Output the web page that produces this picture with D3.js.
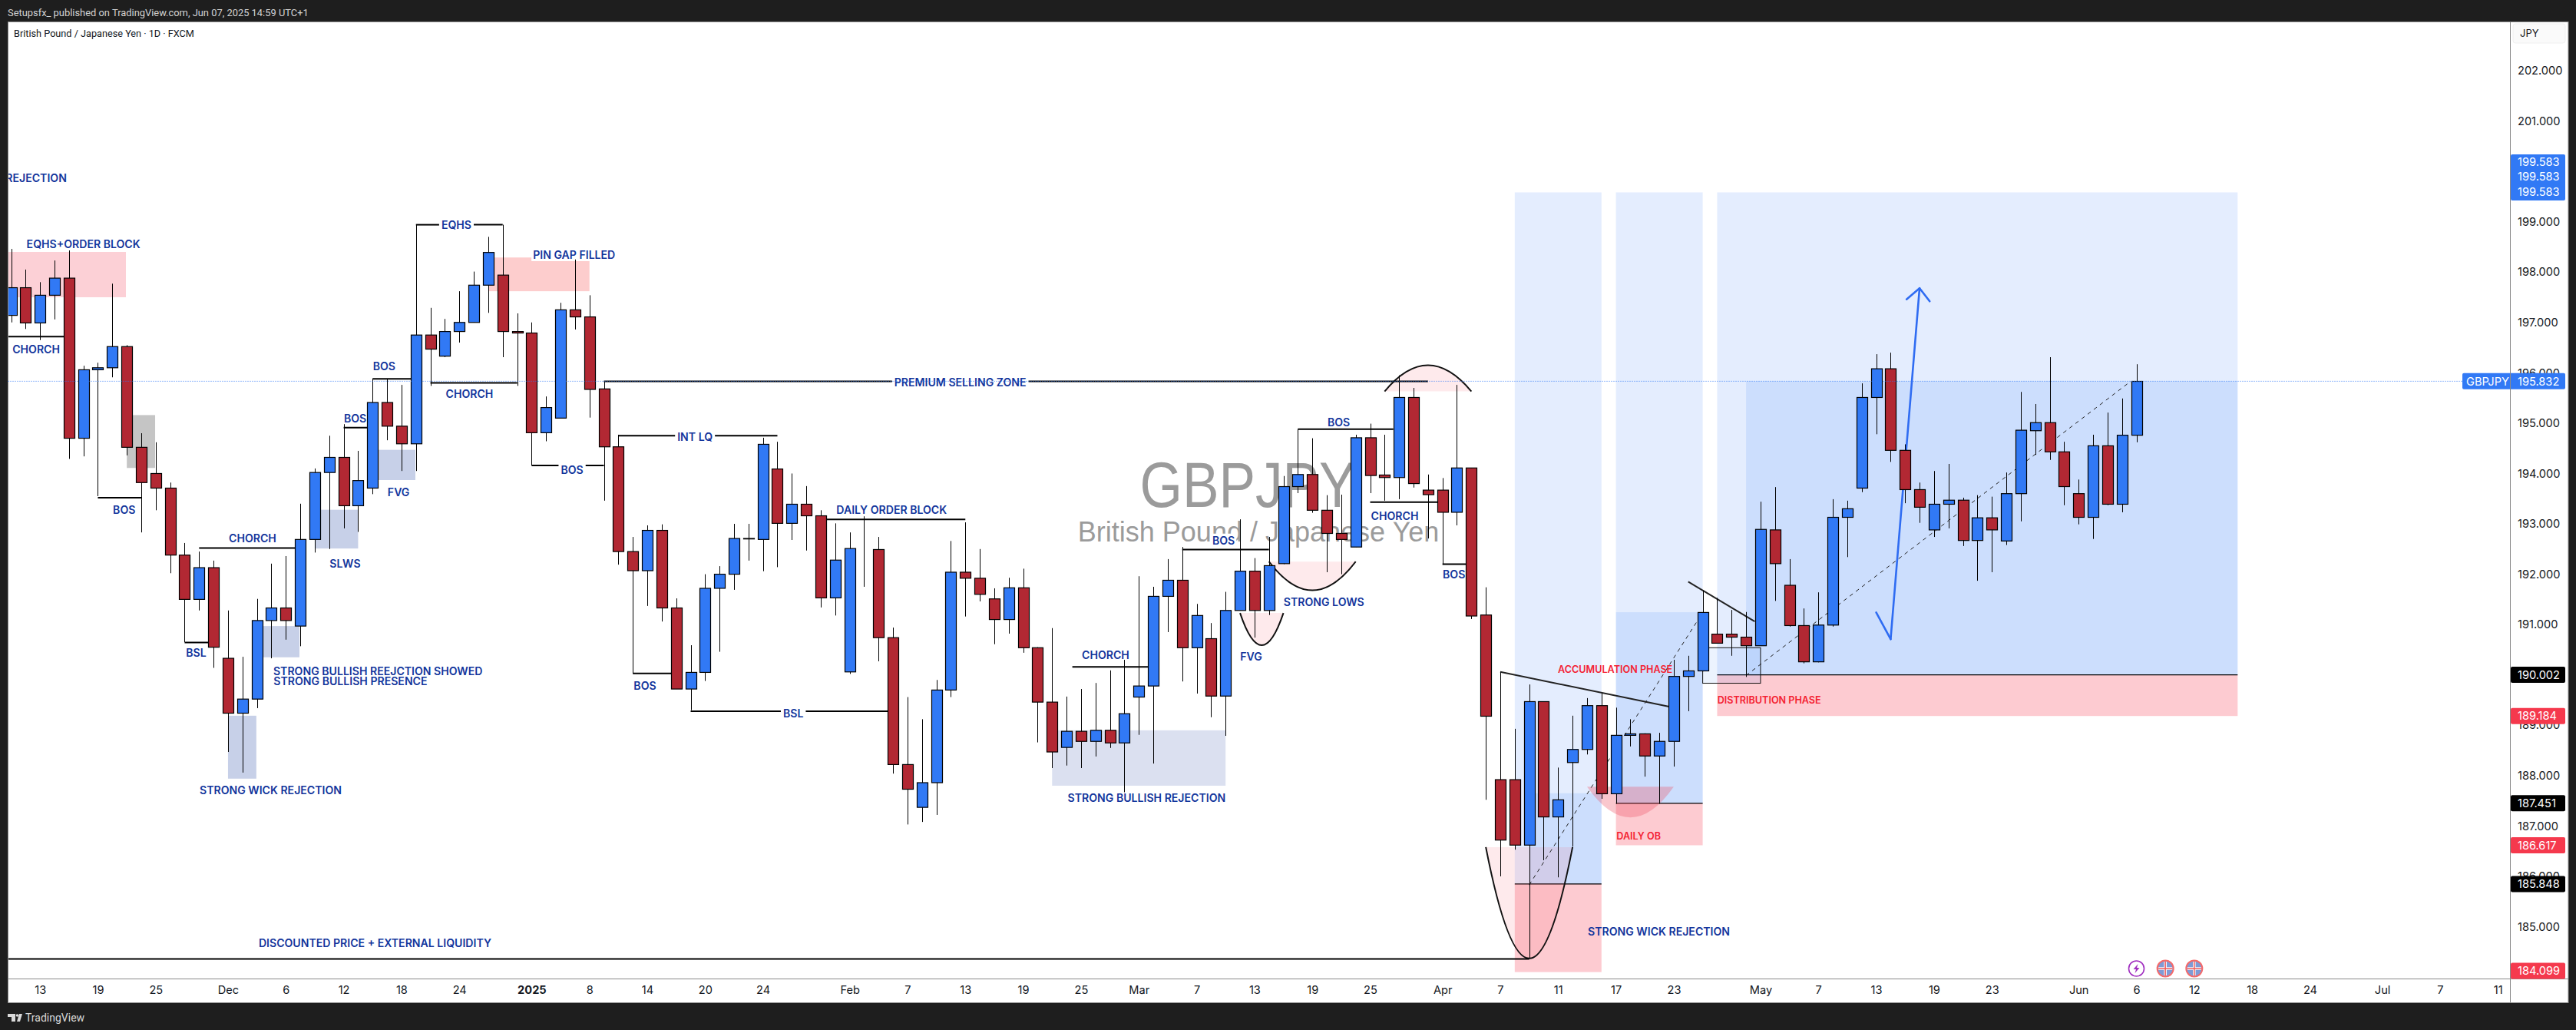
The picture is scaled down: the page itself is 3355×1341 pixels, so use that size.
<!DOCTYPE html>
<html>
<head>
<meta charset="utf-8">
<style>
html, body { margin: 0; padding: 0; background: #1e1e1e; }
svg { display: block; }
text { font-family: Inter, "Noto Sans", sans-serif; }
</style>
<script src="https://cdn.jsdelivr.net/npm/d3@7"></script>
</head>
<body>
<script>
// daily candles, bar 0 = Nov 11 2024
var opens = [
  197.14,197.69,196.99,197.54,197.88,194.70,196.06,196.10,196.52,194.52,
  194.00,193.71,192.38,191.50,192.13,190.33,189.24,189.52,191.08,191.33,
  190.97,192.69,194.02,194.32,193.36,193.71,195.41,194.94,194.59,196.75,
  196.33,196.82,197.00,197.74,197.94,196.82,196.79,194.81,195.10,197.25,
  197.11,195.68,194.53,192.45,192.07,192.87,191.33,189.72,190.05,191.72,
  192.00,192.70,192.69,194.09,193.01,193.39,193.16,191.53,190.06,192.51,
  192.49,190.74,188.22,187.37,187.86,189.70,192.04,191.92,191.51,191.10,
  191.73,190.54,189.46,188.56,188.88,188.68,188.90,188.65,189.56,189.78,
  191.56,191.88,190.54,190.72,189.58,191.28,192.06,191.28,192.21,193.74,
  193.98,193.27,192.81,192.54,194.71,193.97,193.92,195.51,193.67,193.67,
  193.23,194.11,191.19,187.92,187.92,186.62,189.47,187.18,188.26,188.52,
  189.39,187.64,188.80,188.83,188.39,188.68,189.97,190.08,190.81,190.81,
  190.75,190.58,192.88,191.78,190.98,190.26,190.99,193.13,193.71,195.51,
  196.08,194.46,193.68,192.88,193.39,193.47,192.67,193.12,192.66,193.60,
  194.85,195.01,194.43,193.60,193.13,194.55,193.39,194.76
];
var highs = [
  198.46,198.05,197.80,198.23,198.43,196.14,196.20,197.77,196.55,194.80,
  194.62,193.82,192.62,192.45,192.27,191.28,190.36,191.51,192.21,192.36,
  193.40,194.10,194.75,194.98,194.45,195.88,195.88,195.76,198.94,197.29,
  197.07,197.62,198.01,198.70,198.94,197.18,197.00,195.53,197.39,198.25,
  197.54,195.83,194.77,192.74,192.97,192.99,191.52,190.59,192.00,192.16,
  193.00,193.00,194.71,194.63,194.00,193.75,193.27,193.01,192.83,193.15,
  192.74,190.94,189.56,189.12,189.90,192.66,193.03,192.50,191.72,191.93,
  192.11,190.55,190.93,189.57,189.72,189.84,190.09,190.30,191.96,191.75,
  192.30,192.54,191.41,191.03,191.65,193.09,192.32,192.74,193.95,194.88,
  194.70,193.57,193.58,194.77,194.99,194.77,195.95,195.70,193.98,193.91,
  195.76,194.11,191.74,190.06,188.93,189.81,189.47,188.16,189.19,189.54,
  189.63,189.35,189.12,188.84,188.85,190.30,190.38,191.68,191.53,191.29,
  191.25,193.44,193.73,192.30,191.32,191.64,193.49,193.46,195.79,196.37,
  196.40,194.58,193.82,194.05,194.19,193.52,193.57,193.54,194.02,195.62,
  195.38,196.31,194.63,193.88,194.77,195.21,195.49,196.17
];
var lows = [
  197.00,196.87,196.65,197.06,194.29,194.34,193.55,195.91,194.36,192.83,
  193.27,192.02,190.65,191.28,190.14,188.47,188.06,189.34,190.33,190.70,
  190.57,192.43,192.50,192.91,192.84,193.59,194.66,194.05,194.05,195.74,
  196.31,196.60,197.00,197.19,196.31,195.74,194.16,194.64,195.10,196.86,
  195.11,193.46,192.19,190.03,191.37,191.06,189.72,189.30,189.88,190.46,
  191.69,192.27,192.06,192.14,192.68,192.47,191.34,191.18,190.02,191.75,
  190.27,188.04,187.03,187.08,187.22,189.56,191.16,191.46,190.61,190.82,
  190.44,188.66,188.15,188.20,188.15,188.38,188.55,187.67,188.81,188.24,
  190.85,189.87,189.63,189.16,188.79,191.28,190.74,191.19,192.20,193.61,
  193.22,192.04,192.00,192.54,193.61,193.46,193.49,193.72,192.71,192.19,
  192.97,191.11,187.52,186.00,186.53,184.37,186.32,185.98,186.59,188.42,
  187.54,187.44,188.58,187.98,187.44,188.18,189.28,190.07,190.63,190.38,
  189.96,190.58,191.47,190.96,190.23,190.25,190.96,192.34,193.63,194.78,
  194.23,193.41,193.02,192.74,192.91,192.56,191.87,192.04,192.58,193.05,
  194.37,194.27,193.37,192.99,192.70,193.37,193.23,194.62
];
var closes = [
  197.69,196.99,197.54,197.88,194.70,196.06,196.10,196.52,194.52,193.82,
  193.71,192.38,191.50,192.13,190.55,189.24,189.52,191.08,191.33,191.08,
  192.69,194.02,194.32,193.36,193.86,195.41,194.94,194.59,196.75,196.47,
  196.82,197.00,197.74,198.39,196.82,196.79,194.81,195.31,197.25,197.11,
  195.67,194.53,192.45,192.07,192.87,191.33,189.72,190.05,191.72,192.00,
  192.71,192.71,194.58,193.01,193.39,193.16,191.53,192.28,192.51,192.51,
  190.74,188.22,187.73,187.86,189.70,192.04,191.92,191.60,191.10,191.73,
  190.54,189.46,188.47,188.88,188.68,188.90,188.65,189.23,189.78,191.56,
  191.88,190.54,191.18,189.58,191.28,192.06,191.28,192.17,193.74,193.98,
  193.27,192.81,192.69,194.71,193.96,193.92,195.51,193.80,193.58,193.23,
  194.11,191.17,189.18,186.72,186.62,189.47,187.18,187.52,188.52,189.39,
  187.64,188.80,188.83,188.39,188.68,189.97,190.08,191.24,190.63,190.75,
  190.58,192.89,192.21,190.98,190.26,190.99,193.13,193.30,195.51,196.08,
  194.46,193.68,193.33,193.39,193.47,192.67,193.12,192.88,193.60,194.86,
  195.01,194.43,193.74,193.13,194.55,193.39,194.76,195.83
];

// axes
var priceTicks = [202,201,200,199,198,197,196,195,194,193,192,191,190,189,188,187,186,185];
var timeTickBars = [2,6,10,15,19,23,27,31,36,40,44,48,52,58,62,66,70,74,78,82,86,90,94,99,103,107,111,115,121,125,129,133,137,143,147,151,155,159,164,168,172];
var timeTickLabels = ["13","19","25","Dec","6","12","18","24","2025","8","14","20","24","Feb","7","13","19","25","Mar","7","13","19","25","Apr","7","11","17","23","May","7","13","19","23","Jun","6","12","18","24","Jul","7","11"];
var lastPrice = 195.832;

// position tools: start bar, end bar, target, entry, stop, filled part [bar, price]
var positions = [
  [104, 110, 199.583, 185.848, 184.099, 105, 187.65],
  [111, 117, 199.583, 187.451, 186.617, 111, 191.245],
  [118, 154, 199.583, 190.002, 189.184, 120, 195.832]
];

// rectangles: start bar, end bar, top price, bottom price
var pinkZones = [[-1, 7.94, 198.40, 197.50], [33, 40, 198.29, 197.62]];
var greyZones = [[8, 9.96, 195.16, 194.11]];
var slateZones = [[25.35, 27.96, 194.47, 193.87], [21, 24, 193.28, 192.51], [17.4, 19.94, 190.97, 190.35], [15, 16.96, 189.19, 187.94]];
var paleSlateZones = [[72, 84, 188.90, 187.80]];
var outlineBoxes = [[117, 121, 190.54, 189.835]];

// arcs: bar0, bar1, edge price, mid bar, extreme price
var blackArcs = [
  [85, 88, 191.23, 86.5, 190.59],
  [87, 93, 192.25, 90, 191.68],
  [95, 101, 195.63, 98, 196.15],
  [102, 108, 186.58, 105, 184.37]
];
var softArcs = [[109, 115, 187.78, 112, 187.17]];

// plain structure lines: bar0, bar1, price
var structureLines = [
  [-1, 4, 196.72], [6, 9, 193.52], [12, 14, 190.645], [13, 20, 192.52],
  [23, 24.7, 194.91], [25, 27.7, 195.88], [29, 35, 195.80], [43, 46, 190.03],
  [56, 66, 193.09], [73.4, 79, 190.16], [81, 87, 192.49], [89, 95.6, 194.88],
  [94, 99, 193.43], [99, 101, 192.20], [-1, 105, 184.36]
];
// lines broken by their label: bar0, bar1, price, text, label bar, label price
var brokenLines = [
  [28, 34, 198.94, "EQHS", 30.8, 198.94],
  [36, 41, 194.16, "BOS", 38.8, 194.07],
  [41, 98, 195.83, "PREMIUM SELLING ZONE", 65.65, 195.81],
  [42, 53, 194.75, "INT LQ", 47.3, 194.73],
  [47, 61, 189.28, "BSL", 54.1, 189.23]
];
var trendLines = [[103, 190.06, 115, 189.35], [116, 191.85, 120.6, 191.06]];
var dashedLines = [[105, 185.83, 117, 191.24], [120, 189.99, 146.6, 195.83]];
var arrowShaft = [[130, 190.71], [132, 197.68]];
var arrowHeadTop = [[131.1, 197.46], [132, 197.68], [132.7, 197.42]];
var arrowHeadBottom = [[129, 191.24], [130, 190.71]];

// labels: text, centre bar, price
var blueLabels = [
  ["REJECTION", 1.73, 199.86], ["EQHS+ORDER BLOCK", 5.0, 198.55], ["CHORCH", 1.73, 196.47],
  ["BOS", 7.82, 193.28], ["BOS", 23.8, 195.09], ["BOS", 25.8, 196.13], ["FVG", 26.8, 193.63],
  ["CHORCH", 31.7, 195.58], ["SLWS", 23.1, 192.21], ["CHORCH", 16.7, 192.71], ["BSL", 12.8, 190.44],
  ["STRONG BULLISH REEJCTION SHOWED", 25.37, 190.08], ["STRONG BULLISH PRESENCE", 23.47, 189.87],
  ["STRONG WICK REJECTION", 17.95, 187.71], ["DISCOUNTED PRICE + EXTERNAL LIQUIDITY", 25.17, 184.67],
  ["BOS", 43.84, 189.78], ["DAILY ORDER BLOCK", 60.9, 193.27], ["CHORCH", 75.7, 190.39],
  ["STRONG BULLISH REJECTION", 78.54, 187.56], ["FVG", 85.77, 190.36], ["BOS", 91.83, 195.01],
  ["STRONG LOWS", 90.8, 191.44], ["BOS", 99.8, 192.00], ["STRONG WICK REJECTION", 113.97, 184.90]
];
// these ones sit on a white plate
var backedLabels = [
  ["PIN GAP FILLED", 38.94, 198.34], ["BOS", 83.86, 192.67], ["CHORCH", 95.7, 193.16]
];
var redLabels = [
  ["ACCUMULATION PHASE", 110.95, 190.11], ["DISTRIBUTION PHASE", 121.6, 189.50], ["DAILY OB", 112.57, 186.80]
];
// price scale tags
var blackTags = [190.002, 187.451, 185.848];
var redTags = [189.184, 186.617, 184.099];

var W = 3355, H = 1341;
var paneL = 10.5, paneR = 3269.5, paneT = 28.5, paneB = 1274.5, outerR = 3345, outerB = 1305.5;
var blue = "#3179f5", red = "#b22833", labelBlue = "#12359c", tagRed = "#f5394d";
var labelSize = "14.1px", redLabelSize = "12.6px", axisSize = "14.6px";

var x = d3.scaleLinear().domain([0, 147]).range([14.5, 2782.5]);
var y = d3.scaleLinear().domain([202, 185]).range([92, 1206.5]);

var svg = d3.select("body").append("svg").attr("width", W).attr("height", H);

svg.append("rect").attr("width", W).attr("height", H).attr("fill", "#1e1e1e");
svg.append("rect").attr("x", paneL).attr("y", paneT).attr("width", outerR - paneL).attr("height", outerB - paneT)
  .attr("fill", "#fff").attr("stroke", "#8a8a8a");

svg.append("defs").append("clipPath").attr("id", "pane").append("rect")
  .attr("x", paneL + 0.5).attr("y", paneT + 0.5).attr("width", paneR - paneL - 1).attr("height", paneB - paneT - 1);

var plot = svg.append("g").attr("clip-path", "url(#pane)");

// watermark
plot.append("text").attr("x", 1625).attr("y", 660).attr("text-anchor", "middle")
  .attr("textLength", 281).attr("lengthAdjust", "spacingAndGlyphs")
  .style("font-family", "'Liberation Sans'").style("font-size", "83px").attr("fill", "#9b9b9b").text("GBPJPY");
plot.append("text").attr("x", 1639).attr("y", 705).attr("text-anchor", "middle")
  .style("font-family", "'Liberation Sans'").style("font-size", "36px").attr("fill", "#9b9b9b").text("British Pound / Japanese Yen");

function drawZones(rows, fill) {
  plot.append("g").selectAll("rect").data(rows).enter().append("rect")
    .attr("x", function (d) { return x(d[0]); })
    .attr("width", function (d) { return x(d[1]) - x(d[0]); })
    .attr("y", function (d) { return y(d[2]); })
    .attr("height", function (d) { return y(d[3]) - y(d[2]); })
    .attr("fill", fill);
}

drawZones(pinkZones.slice(0, 1), "#fcd0d6");
drawZones(pinkZones.slice(1), "#fdcdcd");
drawZones(greyZones, "#c5c5c5");
drawZones(slateZones, "#c7d0e8");
drawZones(paleSlateZones, "#dbe0f0");

// long position tools
positions.forEach(function (p) {
  drawZones([[p[0], p[1], p[2], p[3]]], "rgba(49,121,245,0.135)");
  drawZones([[p[5], p[1], p[6], p[3]]], "rgba(49,121,245,0.13)");
  drawZones([[p[0], p[1], p[3], p[4]]], "rgba(247,70,90,0.28)");
  plot.append("line").attr("x1", x(p[0])).attr("x2", x(p[1])).attr("y1", y(p[3])).attr("y2", y(p[3]))
    .attr("stroke", "#000").attr("stroke-width", 1.3);
});

function arcPath(a) {
  var control = 2 * a[4] - a[2];
  var path = d3.path();
  path.moveTo(x(a[0]), y(a[2]));
  path.quadraticCurveTo(x(a[3]), y(control), x(a[1]), y(a[2]));
  return path.toString();
}

plot.append("g").selectAll("path").data(blackArcs).enter().append("path")
  .attr("d", arcPath).attr("fill", "rgba(247,82,95,0.12)").attr("stroke", "none");
plot.append("g").selectAll("path").data(blackArcs).enter().append("path")
  .attr("d", arcPath).attr("fill", "none").attr("stroke", "#111").attr("stroke-width", 2);
plot.append("g").selectAll("path").data(softArcs).enter().append("path")
  .attr("d", arcPath).attr("fill", "rgba(240,70,90,0.3)");

// outlined box near the daily ob
plot.append("g").selectAll("rect").data(outlineBoxes).enter().append("rect")
  .attr("x", function (d) { return x(d[0]); })
  .attr("width", function (d) { return x(d[1]) - x(d[0]); })
  .attr("y", function (d) { return y(d[2]); })
  .attr("height", function (d) { return y(d[3]) - y(d[2]); })
  .attr("fill", "rgba(49,121,245,0.09)").attr("stroke", "#111").attr("stroke-width", 1);

// structure lines
plot.append("g").selectAll("line").data(structureLines).enter().append("line")
  .attr("x1", function (d) { return x(d[0]); })
  .attr("x2", function (d) { return x(d[1]); })
  .attr("y1", function (d) { return y(d[2]); })
  .attr("y2", function (d) { return y(d[2]); })
  .attr("stroke", "#000").attr("stroke-width", 2);

plot.append("g").selectAll("line").data(trendLines).enter().append("line")
  .attr("x1", function (d) { return x(d[0]); })
  .attr("y1", function (d) { return y(d[1]); })
  .attr("x2", function (d) { return x(d[2]); })
  .attr("y2", function (d) { return y(d[3]); })
  .attr("stroke", "#222").attr("stroke-width", 2);

plot.append("g").selectAll("line").data(dashedLines).enter().append("line")
  .attr("x1", function (d) { return x(d[0]); })
  .attr("y1", function (d) { return y(d[1]); })
  .attr("x2", function (d) { return x(d[2]); })
  .attr("y2", function (d) { return y(d[3]); })
  .attr("stroke", "#222").attr("stroke-width", 1).attr("stroke-dasharray", "5 5");

// hand drawn arrow
var arrowLine = d3.line().x(function (d) { return x(d[0]); }).y(function (d) { return y(d[1]); });
[arrowShaft, arrowHeadTop, arrowHeadBottom].forEach(function (pts) {
  plot.append("path").attr("d", arrowLine(pts)).attr("fill", "none")
    .attr("stroke", "#2f6cf2").attr("stroke-width", 2.6).attr("stroke-linecap", "round").attr("stroke-linejoin", "round");
});

function labelText(sel, rows, colour, size) {
  return sel.selectAll("text").data(rows).enter().append("text")
    .attr("x", function (d) { return x(d[1]); })
    .attr("y", function (d) { return y(d[2]); })
    .attr("dy", "0.36em")
    .attr("text-anchor", "middle")
    .attr("fill", colour)
    .style("font-size", size)
    .style("font-weight", 600)
    .text(function (d) { return d[0]; });
}

var backed = plot.append("g");
labelText(backed, backedLabels, labelBlue, labelSize).each(function () {
  var box = this.getBBox();
  d3.select(this.parentNode).insert("rect", "text")
    .attr("x", box.x - 2).attr("y", box.y).attr("width", box.width + 4).attr("height", box.height)
    .attr("fill", "#fff");
});
labelText(plot.append("g"), blueLabels, labelBlue, labelSize);
labelText(plot.append("g"), redLabels, "#f41f33", redLabelSize);

// lines with a gap for the label
brokenLines.forEach(function (b) {
  var t = plot.append("text").attr("x", x(b[4])).attr("y", y(b[5])).attr("dy", "0.36em")
    .attr("text-anchor", "middle").attr("fill", labelBlue)
    .style("font-size", labelSize).style("font-weight", 600).text(b[3]);
  var half = t.node().getComputedTextLength() / 2 + 3;
  plot.append("line").attr("x1", x(b[0])).attr("x2", x(b[4]) - half).attr("y1", y(b[2])).attr("y2", y(b[2]))
    .attr("stroke", "#000").attr("stroke-width", 2);
  plot.append("line").attr("x1", x(b[4]) + half).attr("x2", x(b[1])).attr("y1", y(b[2])).attr("y2", y(b[2]))
    .attr("stroke", "#000").attr("stroke-width", 2);
});

// candles
var bars = d3.range(opens.length);
var candles = plot.append("g");
candles.selectAll("line").data(bars).enter().append("line")
  .attr("x1", function (i) { return Math.round(x(i)) + 0.5; })
  .attr("x2", function (i) { return Math.round(x(i)) + 0.5; })
  .attr("y1", function (i) { return y(highs[i]); })
  .attr("y2", function (i) { return y(lows[i]); })
  .attr("stroke", "#000").attr("stroke-width", 1);
candles.selectAll("rect").data(bars).enter().append("rect")
  .attr("x", function (i) { return Math.round(x(i)) + 0.5 - 7; })
  .attr("width", 14)
  .attr("y", function (i) { return y(Math.max(opens[i], closes[i])); })
  .attr("height", function (i) { return Math.abs(y(opens[i]) - y(closes[i])); })
  .attr("fill", function (i) { return closes[i] >= opens[i] ? blue : red; })
  .attr("stroke", "#000").attr("stroke-width", 1.2);

// last price line
svg.append("line").attr("x1", paneL).attr("x2", 3207).attr("y1", y(lastPrice)).attr("y2", y(lastPrice))
  .attr("stroke", blue).attr("stroke-width", 1).attr("stroke-dasharray", "1 2");

// time axis
var timeAxis = svg.append("g").attr("transform", "translate(0," + paneB + ")")
  .call(d3.axisBottom(x).tickValues(timeTickBars).tickSize(0).tickPadding(9)
    .tickFormat(function (d, i) { return timeTickLabels[i]; }));
timeAxis.select(".domain").remove();
timeAxis.selectAll("text").attr("fill", "#131722").style("font-size", axisSize)
  .style("font-family", "Inter")
  .style("font-weight", function (d, i) { return timeTickLabels[i] === "2025" ? 700 : 400; });

// price axis
var priceAxis = svg.append("g").attr("transform", "translate(3279,0)")
  .call(d3.axisRight(y).tickValues(priceTicks).tickSize(0).tickPadding(0).tickFormat(d3.format(".3f")));
priceAxis.select(".domain").remove();
priceAxis.selectAll("text").attr("fill", "#131722").style("font-size", axisSize).style("font-family", "Inter");

// pane separators
svg.append("line").attr("x1", paneR).attr("x2", paneR).attr("y1", paneT).attr("y2", outerB).attr("stroke", "#8a8a8a");
svg.append("line").attr("x1", paneL).attr("x2", outerR).attr("y1", paneB).attr("y2", paneB).attr("stroke", "#8a8a8a");

// currency button
svg.append("rect").attr("x", 3273).attr("y", 31).attr("width", 68).attr("height", 25).attr("rx", 3)
  .attr("fill", "#fafafa").attr("stroke", "#f0f0f0");
svg.append("text").attr("x", 3282).attr("y", 48).attr("fill", "#131722").style("font-size", "13px").text("JPY");

// price tags
function priceTag(value, colour) {
  var cy = Math.min(y(value), paneB - 10.5);
  svg.append("rect").attr("x", paneR + 0.5).attr("y", cy - 10.5).attr("width", 71).attr("height", 21).attr("rx", 2).attr("fill", colour);
  svg.append("text").attr("x", 3279).attr("y", cy).attr("dy", "0.36em").attr("fill", "#fff")
    .style("font-size", axisSize).text(d3.format(".3f")(value));
}
blackTags.forEach(function (v) { priceTag(v, "#000"); });
redTags.forEach(function (v) { priceTag(v, tagRed); });

// target tags stacked
svg.append("rect").attr("x", paneR + 0.5).attr("y", 201).attr("width", 71).attr("height", 60).attr("rx", 2).attr("fill", blue);
[211, 230, 250].forEach(function (ty) {
  svg.append("text").attr("x", 3279).attr("y", ty).attr("dy", "0.36em").attr("fill", "#fff").style("font-size", axisSize).text("199.583");
});

// last price tag with symbol
svg.append("rect").attr("x", 3207).attr("y", y(lastPrice) - 10.5).attr("width", 134).attr("height", 21).attr("rx", 2).attr("fill", blue);
svg.append("text").attr("x", 3212).attr("y", y(lastPrice)).attr("dy", "0.36em").attr("fill", "#fff").style("font-size", axisSize).text("GBPJPY");
svg.append("text").attr("x", 3279).attr("y", y(lastPrice)).attr("dy", "0.36em").attr("fill", "#fff").style("font-size", axisSize).text(d3.format(".3f")(lastPrice));
svg.append("line").attr("x1", paneR).attr("x2", paneR).attr("y1", y(lastPrice) - 10.5).attr("y2", y(lastPrice) + 10.5).attr("stroke", "#8a8a8a");

// event icons on the bottom edge
var iconY = 1261;
var bolt = svg.append("g").attr("transform", "translate(" + x(147) + "," + iconY + ")");
bolt.append("circle").attr("r", 10).attr("fill", "#fff").attr("stroke", "#a12fc0").attr("stroke-width", 1.6);
bolt.append("path").attr("d", "M2,-6 L-4,1 L-0.5,1 L-2,6 L4,-1 L0.5,-1 Z").attr("fill", "#a12fc0");

[149, 151].forEach(function (bar) {
  var g = svg.append("g").attr("transform", "translate(" + x(bar) + "," + iconY + ")");
  g.append("circle").attr("r", 10.5).attr("fill", "#7f9bd6").attr("stroke", "#f56a6a").attr("stroke-width", 2);
  g.append("line").attr("x1", -9).attr("x2", 9).attr("stroke", "#fff").attr("stroke-width", 3.5);
  g.append("line").attr("y1", -9).attr("y2", 9).attr("stroke", "#fff").attr("stroke-width", 3.5);
  g.append("line").attr("x1", -9).attr("x2", 9).attr("stroke", "#ef5a5a").attr("stroke-width", 1.5);
  g.append("line").attr("y1", -9).attr("y2", 9).attr("stroke", "#ef5a5a").attr("stroke-width", 1.5);
});

// header, legend and footer
svg.append("text").attr("x", 10).attr("y", 20.5).attr("fill", "#d4d4d4").style("font-family", "Roboto").style("font-size", "12.9px")
  .text("Setupsfx_ published on TradingView.com, Jun 07, 2025 14:59 UTC+1");
svg.append("text").attr("x", 18).attr("y", 47.5).attr("fill", "#131722").style("font-family", "Roboto").style("font-size", "12.7px")
  .text("British Pound / Japanese Yen \u00b7 1D \u00b7 FXCM");

svg.append("path").attr("d", "M10,1320 H20 V1330 H15 V1324 H10 Z M22,1330 L25,1320 H29 L26,1330 Z").attr("fill", "#d9d9d9");
svg.append("circle").attr("cx", 22.5).attr("cy", 1322).attr("r", 1.8).attr("fill", "#d9d9d9");
svg.append("text").attr("x", 33).attr("y", 1330).attr("fill", "#d9d9d9").style("font-family", "Roboto").style("font-size", "14px").text("TradingView");
</script>
</body>
</html>
